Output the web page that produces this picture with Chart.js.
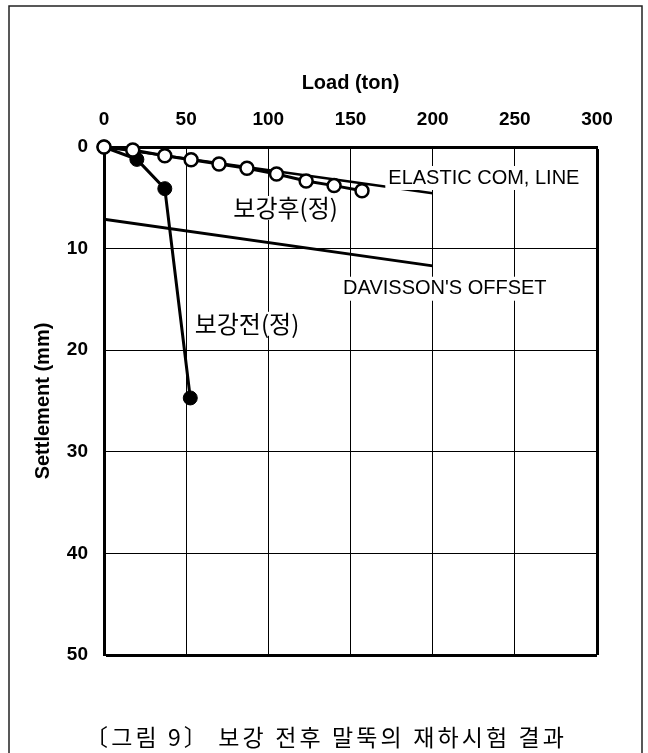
<!DOCTYPE html>
<html>
<head>
<meta charset="utf-8">
<script src="https://cdn.jsdelivr.net/npm/chart.js@4.4.0/dist/chart.umd.min.js"></script>
<style>
  html, body { margin: 0; padding: 0; background: #fff; }
  #wrap { width: 648px; height: 753px; }
</style>
</head>
<body>
<div id="wrap"><canvas id="chart" width="648" height="753"></canvas></div>
<script>
// 보강후(정) - after reinforcement
const loadAfter = [0, 17.5, 37, 53, 70, 87, 105, 123, 140, 157];
const settleAfter = [0, 0.3, 0.86, 1.25, 1.67, 2.1, 2.65, 3.35, 3.8, 4.3];
// 보강전(정) - before reinforcement
const loadBefore = [0, 20, 37, 52.5];
const settleBefore = [0, 1.22, 4.1, 24.7];
// reference lines
const elasticLoad = [0, 200];
const elasticSettle = [0, 4.55];
const davissonLoad = [0, 200];
const davissonSettle = [7.1, 11.7];
// axes
const xTicks = [0, 50, 100, 150, 200, 250, 300];
const yTicks = [0, 10, 20, 30, 40, 50];
// text notes on the plot
const noteTexts = ['ELASTIC COM, LINE', "DAVISSON'S OFFSET", '보강후(정)', '보강전(정)'];
const noteLoads = [173, 145.5, 110.5, 87];
const noteSettles = [3.05, 13.95, 6.0, 17.4];
const noteAlign = ['left', 'left', 'center', 'center'];

const caption = '〔그림 9〕 보강 전후 말뚝의 재하시험 결과';

const toPoints = (xs, ys) => xs.map((x, i) => ({ x: x, y: ys[i] }));

const pageDecor = {
    id: 'pageDecor',
    beforeDraw(chart) {
        const ctx = chart.ctx;
        ctx.save();
        ctx.fillStyle = '#fff';
        ctx.fillRect(0, 0, chart.width, chart.height);
        ctx.restore();
    },
    afterDatasetsDraw(chart) {
        const ctx = chart.ctx;
        const xs = chart.scales.x;
        const ys = chart.scales.y;
        ctx.save();
        ctx.textBaseline = 'middle';
        noteTexts.forEach((t, i) => {
            const korean = /[가-힣]/.test(t);
            ctx.font = korean ? '24px "Noto Sans CJK KR"' : '20px "Liberation Sans", Arial, sans-serif';
            const w = ctx.measureText(t).width;
            const px = xs.getPixelForValue(noteLoads[i]);
            const py = ys.getPixelForValue(noteSettles[i]);
            const left = noteAlign[i] === 'center' ? px - w / 2 : px;
            ctx.fillStyle = '#fff';
            ctx.fillRect(left - 3, py - 12, w + 6, 24);
            ctx.fillStyle = '#000';
            ctx.textAlign = 'left';
            ctx.fillText(t, left, py);
        });
        ctx.restore();
    },
    afterDraw(chart) {
        const ctx = chart.ctx;
        ctx.save();
        // outer frame
        ctx.strokeStyle = '#222';
        ctx.lineWidth = 1.5;
        ctx.beginPath();
        ctx.moveTo(9, 760);
        ctx.lineTo(9, 6);
        ctx.lineTo(642, 6);
        ctx.lineTo(642, 760);
        ctx.stroke();
        // caption
        ctx.font = '23px "Noto Sans CJK KR"';
        ctx.fillStyle = '#000';
        ctx.textBaseline = 'middle';
        ctx.textAlign = 'left';
        ctx.letterSpacing = '0px';
        const w = ctx.measureText(caption).width;
        const n = Array.from(caption).length;
        ctx.letterSpacing = ((479 - w) / (n - 1)) + 'px';
        ctx.fillText(caption, 85, 737);
        ctx.restore();
    }
};

const tickFont = { family: '"Liberation Sans", Arial, sans-serif', size: 19, weight: 'bold' };
const titleFont = { family: '"Liberation Sans", Arial, sans-serif', size: 20, weight: 'bold' };

new Chart(document.getElementById('chart'), {
    type: 'scatter',
    data: {
        datasets: [
            {
                data: toPoints(loadAfter, settleAfter),
                showLine: true,
                clip: false,
                borderColor: '#000',
                borderWidth: 3,
                pointRadius: 6.5,
                pointBackgroundColor: '#fff',
                pointBorderColor: '#000',
                pointBorderWidth: 2.5,
                order: 1,
            },
            {
                data: toPoints(loadBefore, settleBefore),
                showLine: true,
                clip: false,
                borderColor: '#000',
                borderWidth: 3,
                pointRadius: 7,
                pointBackgroundColor: '#000',
                pointBorderColor: '#000',
                pointBorderWidth: 1,
                order: 2,
            },
            {
                data: toPoints(elasticLoad, elasticSettle),
                showLine: true,
                borderColor: '#000',
                borderWidth: 2.5,
                pointRadius: 0,
                order: 3,
            },
            {
                data: toPoints(davissonLoad, davissonSettle),
                showLine: true,
                borderColor: '#000',
                borderWidth: 3,
                pointRadius: 0,
                order: 4,
            },
        ]
    },
    options: {
        responsive: false,
        animation: false,
        devicePixelRatio: 1,
        layout: { padding: { left: 0, right: 51, top: 0, bottom: 98 } },
        plugins: {
            legend: { display: false },
            tooltip: { enabled: false },
        },
        scales: {
            x: {
                type: 'linear',
                position: 'top',
                min: 0,
                max: 300,
                afterFit: (s) => { s.height = 147; },
                afterBuildTicks: (s) => { s.ticks = xTicks.map(v => ({ value: v })); },
                ticks: { color: '#000', font: tickFont, padding: 16, maxRotation: 0 },
                grid: {
                    color: '#000',
                    lineWidth: (c) => (c.tick && c.tick.value === 300 ? 3 : 1),
                    drawTicks: false,
                },
                border: { color: '#000', width: 3 },
                title: { display: true, text: 'Load (ton)', color: '#000', font: titleFont, padding: { top: 71 } },
            },
            y: {
                type: 'linear',
                reverse: true,
                min: 0,
                max: 50,
                afterFit: (s) => { s.width = 104; },
                afterBuildTicks: (s) => { s.ticks = yTicks.map(v => ({ value: v })); },
                ticks: { color: '#000', font: tickFont, padding: 16 },
                grid: {
                    color: '#000',
                    lineWidth: (c) => (c.tick && c.tick.value === 50 ? 3 : 1),
                    drawTicks: false,
                },
                border: { color: '#000', width: 3 },
                title: { display: true, text: 'Settlement (mm)', color: '#000', font: titleFont, padding: { top: 31 } },
            },
        },
    },
    plugins: [pageDecor],
});
</script>
</body>
</html>
